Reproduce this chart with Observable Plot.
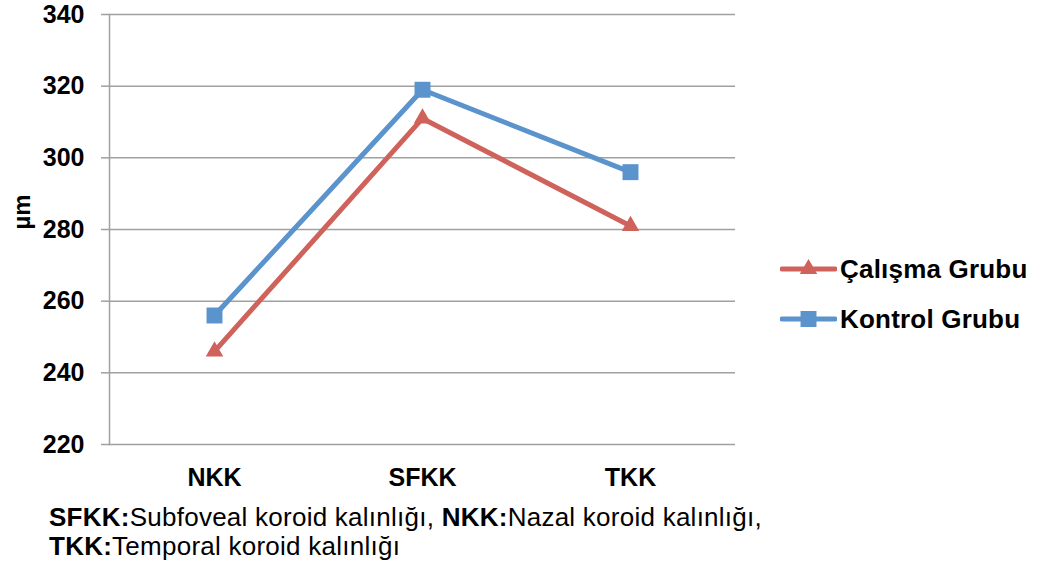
<!DOCTYPE html>
<html>
<head>
<meta charset="utf-8">
<script src="https://cdn.jsdelivr.net/npm/d3@7"></script>
<script src="https://cdn.jsdelivr.net/npm/@observablehq/plot@0.6"></script>
<style>
  body { margin: 0; background: #fff; font-family: "Liberation Sans", Arial, sans-serif; }
  #wrap { position: relative; width: 1039px; height: 571px; overflow: hidden; }
  #chart svg { display: block; }
  .legend-row { position: absolute; left: 780px; height: 30px; display: flex; align-items: center; }
  .legend-row span { font-size: 26px; font-weight: bold; color: #000; margin-left: 3px; white-space: nowrap; letter-spacing: 0.2px; }
  #caption { margin-left: 49px; font-size: 26px; line-height: 29px; color: #000; letter-spacing: 0.25px; }
  #caption b { font-weight: bold; }
</style>
</head>
<body>
<div id="wrap">
  <div id="chart"></div>
  <div id="legend"></div>
  <div id="caption"></div>
</div>
<script>
// ---- data ----
const categories = ["NKK", "SFKK", "TKK"];
const seriesNames = ["Çalışma Grubu", "Kontrol Grubu"];
const calismaValues = [246, 311, 281];
const kontrolValues = [256, 319, 296];
const yTicks = [220, 240, 260, 280, 300, 320, 340];
const yLabel = "µm";
const seriesColors = ["#d0625c", "#5b93cd"];
const seriesSymbols = ["triangle", "square"];
const captionLines = [
  [["SFKK:", true], ["Subfoveal koroid kalınlığı, ", false], ["NKK:", true], ["Nazal koroid kalınlığı,", false]],
  [["TKK:", true], ["Temporal koroid kalınlığı", false]]
];

// ---- build table ----
const allValues = [calismaValues, kontrolValues];
const rows = [];
seriesNames.forEach((s, i) => categories.forEach((c, j) => rows.push({series: s, cat: c, value: allValues[i][j]})));

const grid = "#a0a0a0";

const chart = Plot.plot({
  width: 1039,
  height: 503,
  marginTop: 14,
  marginBottom: 59,
  marginLeft: 109,
  marginRight: 304,
  style: {fontFamily: "'Liberation Sans', Arial, sans-serif", background: "#fff", color: "#000", overflow: "visible"},
  x: {type: "point", domain: categories, padding: 0.5},
  y: {domain: [220, 340]},
  color: {domain: seriesNames, range: seriesColors},
  symbol: {domain: seriesNames, range: seriesSymbols},
  marks: [
    Plot.gridY(yTicks, {stroke: grid, strokeOpacity: 1, strokeWidth: 1.5}),
    Plot.frame({anchor: "left", stroke: grid, strokeWidth: 1.5}),
    Plot.axisY(yTicks, {tickSize: 8, tickPadding: 17, fontSize: 25, fontWeight: "bold", stroke: grid, strokeWidth: 1.5, label: null}),
    Plot.axisX({tickSize: 0, tickPadding: 24, fontSize: 25, fontWeight: "bold", label: null}),
    Plot.text([yLabel], {frameAnchor: "left", dx: -87, rotate: -90, fontSize: 24, fontWeight: "bold", fill: "#000"}),
    Plot.line(rows, {x: "cat", y: "value", z: "series", stroke: "series", strokeWidth: 5, strokeLinejoin: "miter"}),
    Plot.dot(rows.filter(d => d.series === seriesNames[0]), {x: "cat", y: "value", symbol: "series", fill: "series", r: 6.5}),
    Plot.dot(rows.filter(d => d.series === seriesNames[1]), {x: "cat", y: "value", symbol: "series", fill: "series", r: 9})
  ]
});
document.getElementById("chart").appendChild(chart);

// ---- legend (HTML) ----
const legendTops = [254, 304];
const legend = document.getElementById("legend");
seriesNames.forEach((s, i) => {
  const row = document.createElement("div");
  row.className = "legend-row";
  row.style.top = legendTops[i] + "px";
  const sw = d3.create("svg").attr("width", 57).attr("height", 30);
  sw.append("line").attr("x1", 2).attr("x2", 55).attr("y1", 15).attr("y2", 15)
    .attr("stroke", seriesColors[i]).attr("stroke-width", 5).attr("stroke-linecap", "round");
  const sym = seriesSymbols[i] === "triangle" ? d3.symbolTriangle : d3.symbolSquare;
  const size = seriesSymbols[i] === "triangle" ? Math.PI * 6.5 * 6.5 : Math.PI * 9 * 9;
  sw.append("path").attr("transform", "translate(28.5,15)")
    .attr("d", d3.symbol(sym, size)()).attr("fill", seriesColors[i]);
  row.appendChild(sw.node());
  const t = document.createElement("span");
  t.textContent = s;
  row.appendChild(t);
  legend.appendChild(row);
});

// ---- caption ----
const cap = document.getElementById("caption");
captionLines.forEach(line => {
  const div = document.createElement("div");
  line.forEach(([txt, bold]) => {
    const el = document.createElement(bold ? "b" : "span");
    el.textContent = txt;
    div.appendChild(el);
  });
  cap.appendChild(div);
});
</script>
</body>
</html>
